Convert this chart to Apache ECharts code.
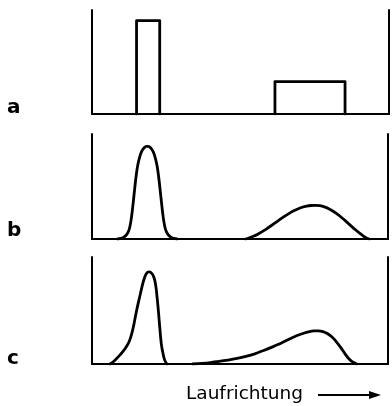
<!DOCTYPE html>
<html>
<head>
<meta charset="utf-8">
<script src="https://cdn.jsdelivr.net/npm/echarts@6/dist/echarts.min.js"></script>
<style>
html,body{margin:0;padding:0;background:#fff;}
#chart{width:392px;height:406px;}
</style>
</head>
<body>
<div id="chart"></div>
<script>
// Panel labels
var panelLabels = ['a', 'b', 'c'];
var axisTitle = 'Laufrichtung';

// Panel a: rectangular zones [x, y]
var aZone1 = [[15.0, 0], [15.0, 89.7], [22.8, 89.7], [22.8, 0]];
var aZone2 = [[61.6, 0], [61.6, 31.2], [85.2, 31.2], [85.2, 0]];

// Panel b: symmetric peaks
var bPeak1 = [[8.7,0],[9.7,0.5],[10.2,1.0],[10.7,1.8],[11.2,2.8],[11.7,4.2],[12.2,6.5],[12.7,10.5],[13.2,18],[13.7,29],[14.2,42],[14.7,55],[15.2,66],[15.7,73.5],[16.2,79],[16.7,83],[17.2,85.5],[17.7,87],[18.2,88],[18.7,88.3],[19.2,88],[19.7,87],[20.2,85.5],[20.7,83],[21.2,79],[21.7,73.5],[22.2,66],[22.7,55],[23.2,42],[23.7,29],[24.2,18],[24.7,10.5],[25.2,6.5],[25.7,4.2],[26.2,2.8],[26.7,1.8],[27.2,1.0],[27.7,0.5],[28.7,0]];
var bPeak2 = [[51.9,0],[53,1.0],[54.5,2.6],[56,4.6],[57.5,7.0],[59,9.7],[60.5,12.6],[62,15.6],[63.5,18.6],[65,21.5],[66.5,24.2],[68,26.6],[69.5,28.6],[71,30.2],[72.5,31.3],[74,31.9],[75.5,32.1],[77,31.7],[78.5,30.6],[80,28.8],[81.5,26.4],[83,23.4],[84.5,20.0],[86,16.3],[87.5,12.5],[89,8.8],[90.5,5.4],[91.7,2.8],[92.7,1.0],[93.7,0]];

// Panel c: skewed peaks
var cPeak1 = [[6.0,0],[6.7,1],[7.4,2.5],[8.1,4.5],[8.8,6.5],[9.5,8.5],[10.2,10.8],[10.9,13.3],[11.6,16.2],[12.3,19.5],[12.9,23.5],[13.5,29],[14.0,35],[14.5,42],[15.0,49],[15.5,55.5],[16.0,61.5],[16.5,67.5],[17.0,73.5],[17.5,78.5],[18.0,82.5],[18.5,85],[19.0,86],[19.4,86.1],[19.9,85.5],[20.4,84],[20.9,81],[21.3,77],[21.7,70],[22.0,62],[22.3,53.6],[22.6,44],[22.9,34],[23.2,24.5],[23.5,17],[23.9,11],[24.3,6],[24.7,2.8],[25.3,0]];
var cPeak2 = [[34,0],[37,0.5],[40,1.3],[43,2.5],[46,3.7],[49,5.2],[52,7.1],[55,9.5],[58,12.6],[61,16],[64,19.6],[66,22.4],[68,25.0],[70,27.3],[72,29.2],[73.5,30.3],[75,30.9],[76.5,31.0],[78,30.3],[79.5,28.5],[81,25.4],[82.5,21.0],[84,15.5],[85.5,9.5],[86.7,5.2],[88,2.0],[89.4,0]];

var grids = [
  {left: 92, width: 297, top: 10, height: 104},
  {left: 92, width: 296, top: 134, height: 105},
  {left: 92, width: 296, top: 257, height: 107}
];

var axisLineStyle = {color: '#000', width: 2};
var xAxes = [], yAxes = [];
grids.forEach(function (g, i) {
  xAxes.push({
    type: 'value', gridIndex: i, min: 0, max: 100,
    axisLine: {show: true, onZero: false, lineStyle: {color: '#000', width: 2.2}},
    axisTick: {show: false}, axisLabel: {show: false}, splitLine: {show: false}
  });
  yAxes.push({
    type: 'value', gridIndex: i, min: 0, max: 100, position: 'left',
    axisLine: {show: true, onZero: false, lineStyle: axisLineStyle},
    axisTick: {show: false}, axisLabel: {show: false}, splitLine: {show: false}
  });
  yAxes.push({
    type: 'value', gridIndex: i, min: 0, max: 100, position: 'right',
    axisLine: {show: true, onZero: false, lineStyle: axisLineStyle},
    axisTick: {show: false}, axisLabel: {show: false}, splitLine: {show: false}
  });
});

function lineSeries(data, gi, smooth) {
  return {
    type: 'line', data: data, xAxisIndex: gi, yAxisIndex: gi * 2,
    smooth: smooth, symbol: 'none', silent: true,
    lineStyle: {color: '#000', width: 2.8, join: 'round', cap: 'round'}
  };
}

var series = [
  lineSeries(aZone1, 0, false),
  lineSeries(aZone2, 0, false),
  lineSeries(bPeak1, 1, 0.3),
  lineSeries(bPeak2, 1, 0.3),
  lineSeries(cPeak1, 2, 0.3),
  lineSeries(cPeak2, 2, 0.3)
];

var labelY = [111, 234, 362];
var graphics = panelLabels.map(function (t, i) {
  return {
    type: 'text', left: 7, top: labelY[i] - 13,
    style: {text: t, fill: '#000', font: 'bold 20px "DejaVu Sans"'}
  };
});
graphics.push({
  type: 'text', left: 186, top: 385,
  style: {text: axisTitle, fill: '#000', font: '18.5px "DejaVu Sans"'}
});
graphics.push({
  type: 'line', shape: {x1: 318, y1: 395, x2: 372, y2: 395},
  style: {stroke: '#000', lineWidth: 2}
});
graphics.push({
  type: 'polygon', shape: {points: [[369, 391], [381, 395], [369, 399]]},
  style: {fill: '#000'}
});

var chart = echarts.init(document.getElementById('chart'), null, {renderer: 'canvas'});
chart.setOption({
  animation: false,
  backgroundColor: '#fff',
  grid: grids,
  xAxis: xAxes,
  yAxis: yAxes,
  series: series,
  graphic: graphics
});
</script>
</body>
</html>
